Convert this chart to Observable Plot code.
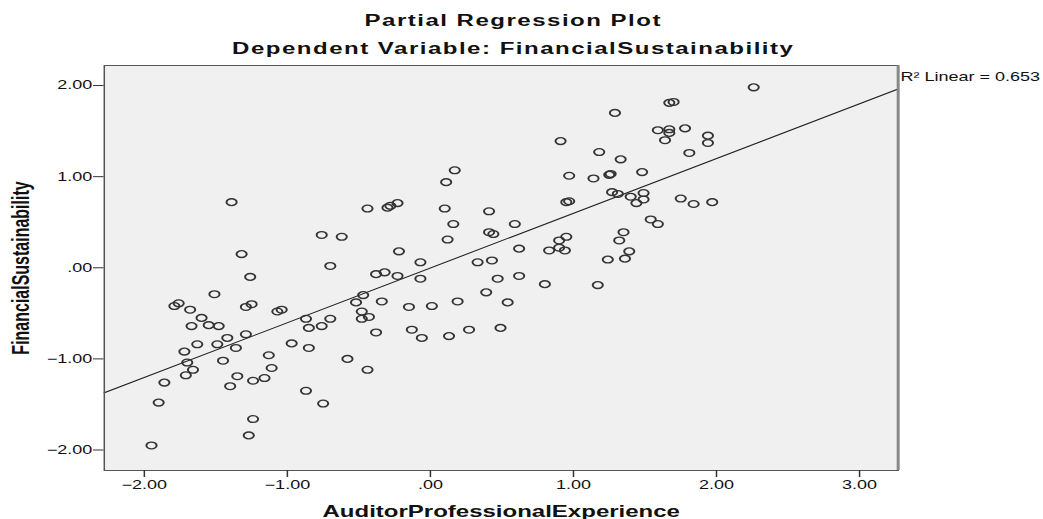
<!DOCTYPE html>
<html>
<head>
<meta charset="utf-8">
<script src="https://cdn.jsdelivr.net/npm/d3@7"></script>
<script src="https://cdn.jsdelivr.net/npm/@observablehq/plot@0.6"></script>
<style>
html, body { margin: 0; padding: 0; background: #fff; overflow: hidden; }
#wrap { position: relative; width: 695px; height: 519px; transform: scaleX(1.5007); transform-origin: 0 0;
        font-family: "Liberation Sans", Arial, sans-serif; color: #111; }
#head { position: relative; height: 56px; }
.t { position: absolute; left: 0; width: 684px; text-align: center; font-weight: bold; font-size: 16px;
     line-height: 16px; letter-spacing: 1px; white-space: nowrap; }
#chart svg { display: block; }
</style>
</head>
<body>
<div id="wrap">
  <div id="head">
    <div class="t" id="title" style="top:12.5px"></div>
    <div class="t" id="subtitle" style="top:40.5px"></div>
  </div>
  <div id="chart"></div>
</div>
<script>
const titleText = "Partial Regression Plot";
const subtitleText = "Dependent Variable: FinancialSustainability";
const xLabel = "AuditorProfessionalExperience";
const yLabel = "FinancialSustainability";
const r2Linear = 0.653;
const xTicks = [-2, -1, 0, 1, 2, 3];
const yTicks = [-2, -1, 0, 1, 2];
const xDomain = [-2.28, 3.27];
const yDomain = [-2.225, 2.22];

const experience = [
  -1.39, -1.32, -1.26, -1.51, -1.76, -1.79, -1.68, -1.25, -1.29, -1.07, -1.04, -1.60, -1.67, -1.55, -1.48, -0.87, -0.85,
  -1.29, -1.42, -1.49, -1.63, -1.36, -1.72, -0.97, -0.85, -1.13, -1.45, -1.70, -1.66, -1.71, -1.11, -1.35, -1.24, -1.16,
  -1.40, -1.86, -0.87, -1.90, -1.24, -1.27, -1.95,
  0.17, 0.11, -0.44, -0.30, -0.28, -0.23, 0.10, 0.41, 0.16, 0.59, 0.41, 0.44, -0.76, -0.62, 0.12, 0.62, -0.22, -0.70,
  -0.07, 0.33, 0.43, -0.38, -0.32, -0.23, -0.07, 0.47, 0.62,
  0.39, -0.47, -0.52, -0.34, -0.15, 0.01, 0.19, 0.54, -0.48, -0.48, -0.43, -0.76, -0.70, -0.38, -0.13, -0.06, 0.13, 0.27,
  0.49, -0.58, -0.44, -0.75,
  1.29, 1.67, 1.70, 0.91, 1.59, 1.67, 1.67, 1.64, 1.78, 1.94, 1.94, 1.18, 1.81, 1.33, 1.48, 0.97, 1.14, 1.25, 1.26, 1.27,
  1.31, 1.40, 1.49, 1.49, 1.44, 1.75, 1.84, 1.97, 0.95, 0.97, 1.54, 1.59, 1.35, 1.32, 0.95, 0.90, 0.83, 0.90, 0.94, 1.39,
  1.24, 1.36, 0.80, 1.17, 2.26
];
const sustainability = [
  0.72, 0.15, -0.10, -0.29, -0.39, -0.42, -0.46, -0.40, -0.43, -0.48, -0.46, -0.55, -0.64, -0.63, -0.64, -0.56, -0.66,
  -0.73, -0.77, -0.84, -0.84, -0.88, -0.92, -0.83, -0.88, -0.96, -1.02, -1.04, -1.12, -1.18, -1.10, -1.19, -1.24, -1.21,
  -1.30, -1.26, -1.35, -1.48, -1.66, -1.84, -1.95,
  1.07, 0.94, 0.65, 0.66, 0.68, 0.71, 0.65, 0.62, 0.48, 0.48, 0.39, 0.37, 0.36, 0.34, 0.31, 0.21, 0.18, 0.02,
  0.06, 0.06, 0.08, -0.07, -0.05, -0.09, -0.12, -0.12, -0.09,
  -0.27, -0.30, -0.38, -0.37, -0.43, -0.42, -0.37, -0.38, -0.48, -0.56, -0.54, -0.64, -0.56, -0.71, -0.68, -0.77, -0.75, -0.68,
  -0.66, -1.00, -1.12, -1.49,
  1.70, 1.81, 1.82, 1.39, 1.51, 1.52, 1.48, 1.40, 1.53, 1.45, 1.37, 1.27, 1.26, 1.19, 1.05, 1.01, 0.98, 1.02, 1.03, 0.83,
  0.81, 0.78, 0.82, 0.75, 0.71, 0.76, 0.70, 0.72, 0.72, 0.73, 0.53, 0.48, 0.39, 0.30, 0.34, 0.30, 0.19, 0.22, 0.19, 0.18,
  0.09, 0.10, -0.18, -0.19, 1.98
];

document.getElementById("title").textContent = titleText;
document.getElementById("subtitle").textContent = subtitleText;

const points = experience.map((x, i) => ({x, y: sustainability[i]}));

// least-squares fit line through the points, drawn across the whole x domain
const mx = d3.mean(experience), my = d3.mean(sustainability);
const slope = d3.sum(points, d => (d.x - mx) * (d.y - my)) / d3.sum(points, d => (d.x - mx) ** 2);
const intercept = my - slope * mx;
const fitLine = xDomain.map(x => ({x, y: intercept + slope * x}));

const fmt = d => d3.format(".2f")(d).replace(/^(-?)0\./, "$1.");

const chart = Plot.plot({
  width: 695,
  height: 463,
  marginTop: 9,
  marginBottom: 49,
  marginLeft: 69,
  marginRight: 97,
  style: {fontFamily: '"Liberation Sans", Arial, sans-serif', fontSize: "12px", color: "#111", background: "transparent"},
  x: {domain: xDomain},
  y: {domain: yDomain},
  marks: [
    Plot.frame({fill: "#f0f0f0", stroke: null}),
    Plot.line(fitLine, {x: "x", y: "y", stroke: "#222", strokeWidth: 1}),
    Plot.dot(points, {x: "x", y: "y", r: 3.4, stroke: "#333", strokeWidth: 1.3, fill: "none"}),
    Plot.frame({stroke: "#555", strokeWidth: 1}),
    Plot.ruleX([xDomain[1]], {stroke: "#888", strokeWidth: 2}),
    Plot.axisX(xTicks, {anchor: "bottom", tickSize: 7, tickPadding: 3, tickFormat: fmt, label: null, fontSize: 12, stroke: "#333"}),
    Plot.axisY(yTicks, {anchor: "left", tickSize: 7, tickPadding: 1, tickFormat: fmt, label: null, fontSize: 12, stroke: "#333"}),
    Plot.text([xLabel], {frameAnchor: "bottom", dy: 35, lineAnchor: "top", text: d => d, fontSize: 16, fontWeight: "bold"}),
    Plot.text([yLabel], {frameAnchor: "left", rotate: -90, dx: -61.5, lineAnchor: "top", textAnchor: "middle", text: d => d, fontSize: 16, fontWeight: "bold"}),
    Plot.text([`R² Linear = ${r2Linear}`], {frameAnchor: "top-right", textAnchor: "start", lineAnchor: "top", dx: 1.5, dy: 6.5, text: d => d, fontSize: 12})
  ]
});
document.getElementById("chart").appendChild(chart);
</script>
</body>
</html>
